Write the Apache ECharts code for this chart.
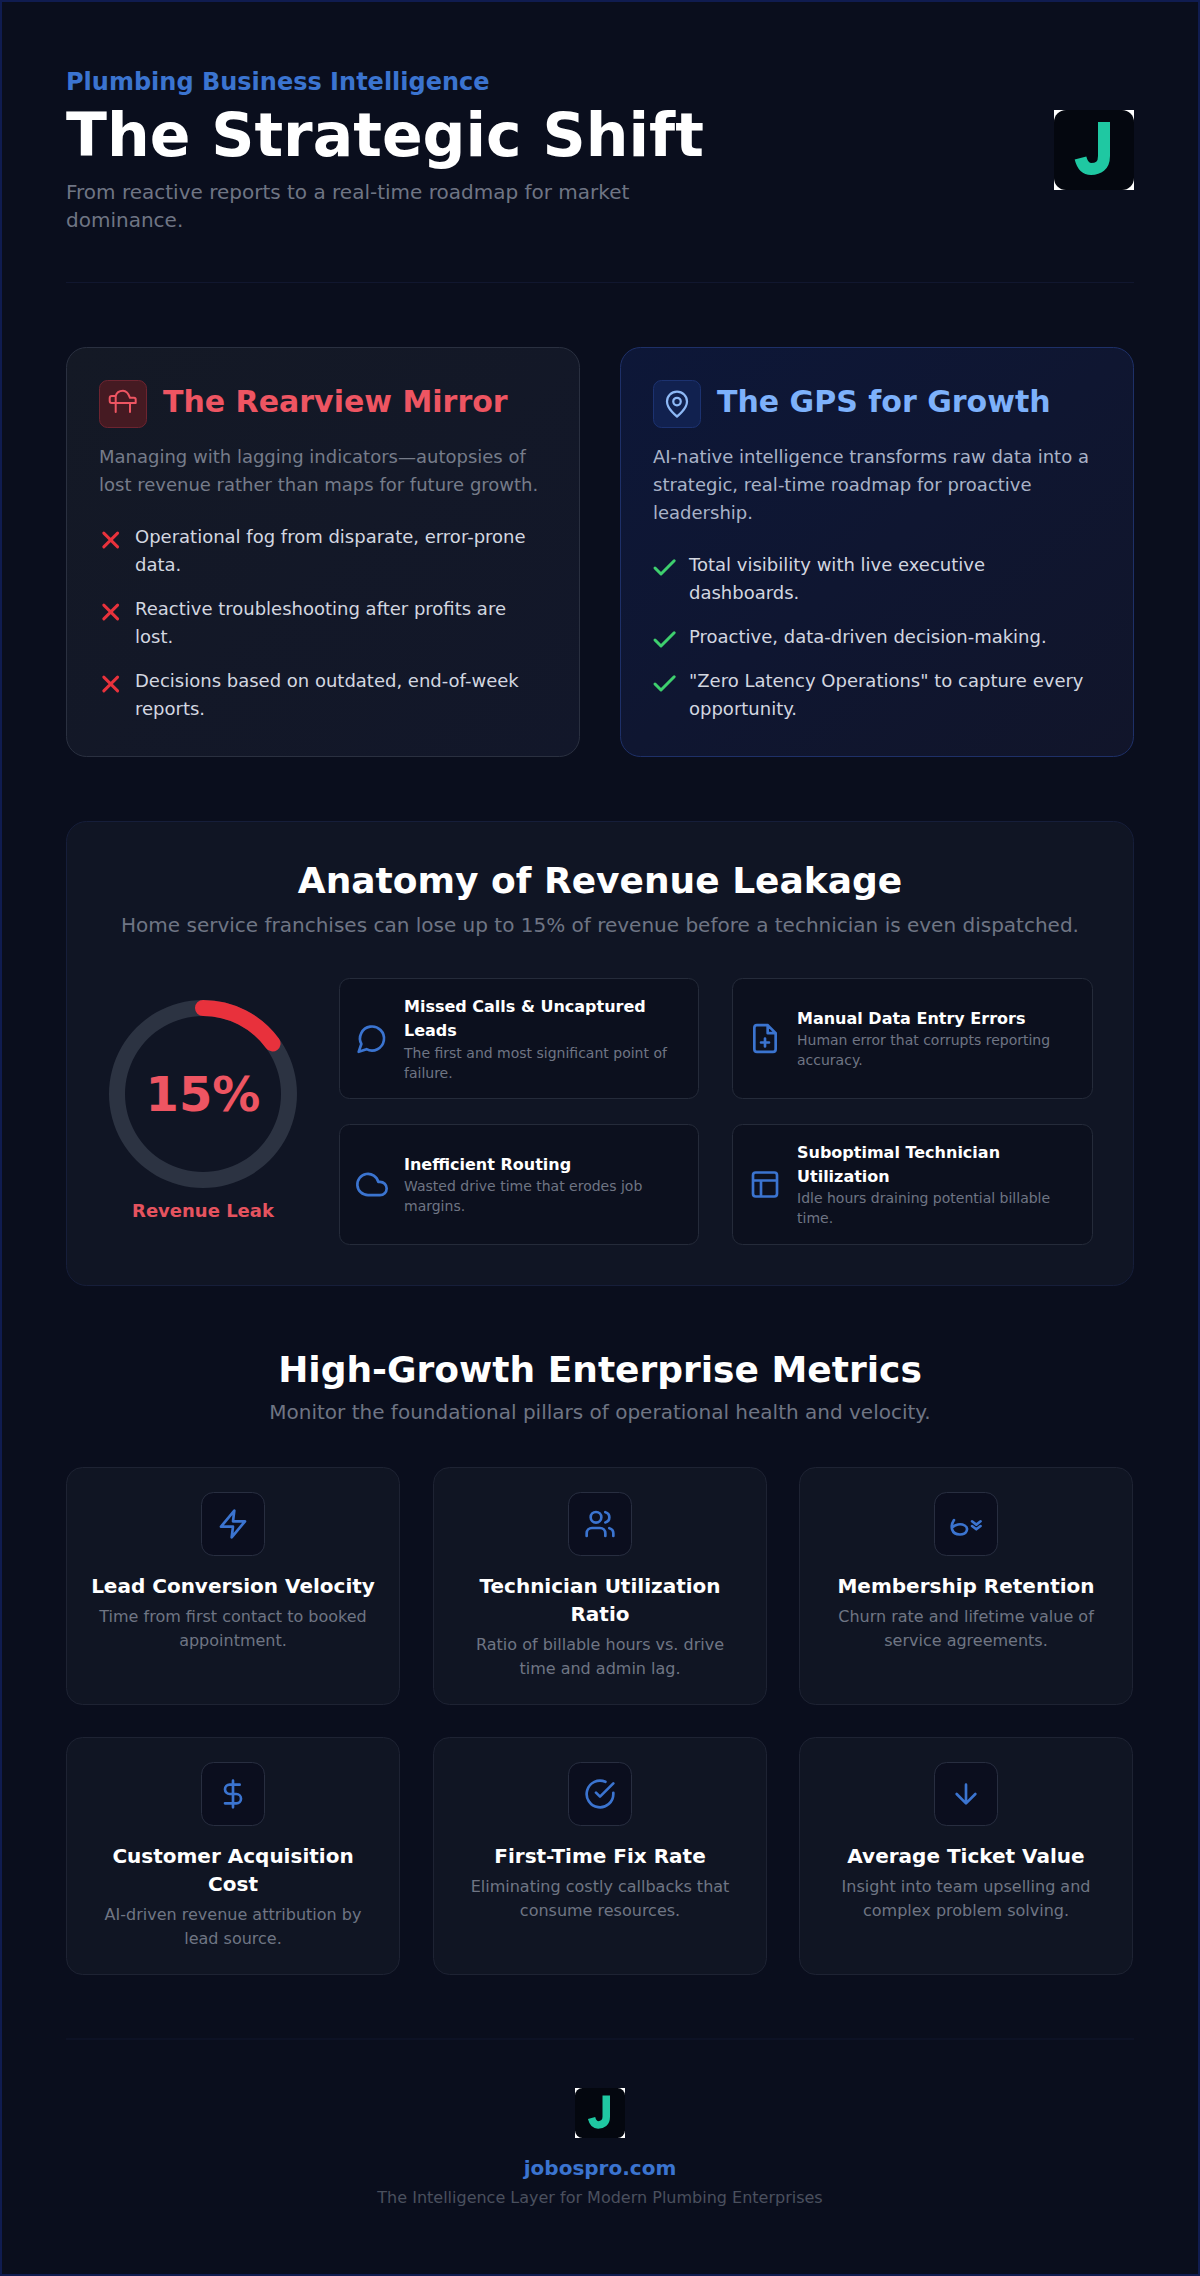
<!DOCTYPE html>
<html>

<head>
    <meta charset="utf-8">
    <title>The Strategic Shift</title>
    <style>
        html,
        body,
        #main {
            padding: 0;
            margin: 0;
            width: 1200px;
            height: 2276px;
            background: #0a0e1d;
            overflow: hidden;
        }
    </style>
    <script src="https://cdn.jsdelivr.net/npm/echarts@6/dist/echarts.min.js"></script>
</head>

<body>
    <div id="main"></div>
    <script>
        // chart values
        var ringValue = 15;
        var ringMax = 100;
        var ringLabel = 'Revenue Leak';

        // texts, one entry per rendered line
        var eyebrow = 'Plumbing Business Intelligence';
        var headline = 'The Strategic Shift';
        var tagline = ['From reactive reports to a real-time roadmap for market', 'dominance.'];

        var oldTitle = 'The Rearview Mirror';
        var oldBody = ['Managing with lagging indicators\u2014autopsies of', 'lost revenue rather than maps for future growth.'];
        var oldItems = [
            ['Operational fog from disparate, error-prone', 'data.'],
            ['Reactive troubleshooting after profits are', 'lost.'],
            ['Decisions based on outdated, end-of-week', 'reports.']
        ];

        var newTitle = 'The GPS for Growth';
        var newBody = ['AI-native intelligence transforms raw data into a', 'strategic, real-time roadmap for proactive', 'leadership.'];
        var newItems = [
            ['Total visibility with live executive', 'dashboards.'],
            ['Proactive, data-driven decision-making.'],
            ['"Zero Latency Operations" to capture every', 'opportunity.']
        ];

        var leakTitle = 'Anatomy of Revenue Leakage';
        var leakSub = 'Home service franchises can lose up to 15% of revenue before a technician is even dispatched.';
        var leakTitles = [
            ['Missed Calls & Uncaptured', 'Leads'],
            ['Manual Data Entry Errors'],
            ['Inefficient Routing'],
            ['Suboptimal Technician', 'Utilization']
        ];
        var leakDescs = [
            ['The first and most significant point of', 'failure.'],
            ['Human error that corrupts reporting', 'accuracy.'],
            ['Wasted drive time that erodes job', 'margins.'],
            ['Idle hours draining potential billable', 'time.']
        ];

        var metricsTitle = 'High-Growth Enterprise Metrics';
        var metricsSub = 'Monitor the foundational pillars of operational health and velocity.';
        var metricTitles = [
            ['Lead Conversion Velocity'],
            ['Technician Utilization', 'Ratio'],
            ['Membership Retention'],
            ['Customer Acquisition', 'Cost'],
            ['First-Time Fix Rate'],
            ['Average Ticket Value']
        ];
        var metricDescs = [
            ['Time from first contact to booked', 'appointment.'],
            ['Ratio of billable hours vs. drive', 'time and admin lag.'],
            ['Churn rate and lifetime value of', 'service agreements.'],
            ['AI-driven revenue attribution by', 'lead source.'],
            ['Eliminating costly callbacks that', 'consume resources.'],
            ['Insight into team upselling and', 'complex problem solving.']
        ];

        var footerSite = 'jobospro.com';
        var footerLine = 'The Intelligence Layer for Modern Plumbing Enterprises';

        // icons on a 24 box
        var icoX = 'M18 6L6 18 M6 6l12 12';
        var icoCheck = 'M20 6L9 17l-5-5';
        var icoPin = 'M20 10c0 6-8 12-8 12s-8-6-8-12a8 8 0 0 1 16 0z M12 10m-3 0a3 3 0 1 0 6 0a3 3 0 1 0-6 0';
        var leakIcons = [
            'M7.9 20A9 9 0 1 0 4 16.1L2 22Z',
            'M14 2H6a2 2 0 0 0-2 2v16a2 2 0 0 0 2 2h12a2 2 0 0 0 2-2V8z M14 2v6h6 M12 18v-6 M9 15h6',
            'M18 10h-1.26A8 8 0 1 0 9 20h9a5 5 0 0 0 0-10z',
            'M5 3h14a2 2 0 0 1 2 2v14a2 2 0 0 1-2 2H5a2 2 0 0 1-2-2V5a2 2 0 0 1 2-2z M3 9h18 M9 21V9'
        ];
        var metricIcons = [
            'M13 2L3 14h9l-1 8 10-12h-9l1-8z',
            'M16 21v-2a4 4 0 0 0-4-4H6a4 4 0 0 0-4 4v2 M9 7m-4 0a4 4 0 1 0 8 0a4 4 0 1 0-8 0 M22 21v-2a4 4 0 0 0-3-3.87 M16 3.13a4 4 0 0 1 0 7.75',
            null,
            'M12 2v20 M17 5H9.5a3.5 3.5 0 0 0 0 7h5a3.5 3.5 0 0 1 0 7H6',
            'M22 11.08V12a10 10 0 1 1-5.93-9.14 M22 4L12 14.01l-3-3',
            'M12 5v14 M19 12l-7 7-7-7'
        ];

        var FONT = '"DejaVu Sans", sans-serif';
        var BLUE = '#3b74d0';
        var GREY = '#6f7584';
        var CORAL = '#ee5562';
        var els = [];

        // the graphic component only takes named shapes, so each path gets registered once
        var shapeNames = {};
        var shapeCount = 0;
        function shapeFor(d) {
            if (!shapeNames[d]) {
                shapeNames[d] = 'ico' + (shapeCount++);
                echarts.graphic.registerShape(shapeNames[d], echarts.graphic.extendPath(d));
            }
            return shapeNames[d];
        }

        function text(x, base, str, size, color, bold, align) {
            els.push({
                type: 'text',
                x: x,
                y: base - size * 0.36,
                silent: true,
                style: {
                    text: str,
                    fontFamily: FONT,
                    fontSize: size,
                    fontWeight: bold ? 'bold' : 'normal',
                    fill: color,
                    textAlign: align || 'left',
                    textVerticalAlign: 'middle'
                }
            });
        }

        function lines(x, base, arr, step, size, color, bold, align) {
            arr.forEach(function (s, i) {
                text(x, base + i * step, s, size, color, bold, align);
            });
        }

        function box(x, y, w, h, r, fill, stroke, lw) {
            els.push({
                type: 'rect',
                silent: true,
                shape: { x: x + 0.5, y: y + 0.5, width: w - 1, height: h - 1, r: r },
                style: { fill: fill, stroke: stroke, lineWidth: lw || 1 }
            });
        }

        function icon(d, cx, cy, scale, color, lw) {
            els.push({
                type: shapeFor(d),
                silent: true,
                x: cx - 12 * scale,
                y: cy - 12 * scale,
                scaleX: scale,
                scaleY: scale,
                style: { fill: 'none', stroke: color, lineWidth: lw || 2, lineCap: 'round', lineJoin: 'round' }
            });
        }

        // path drawn straight in page pixels
        function raw(d, color, lw) {
            els.push({
                type: shapeFor(d),
                silent: true,
                style: { fill: 'none', stroke: color, lineWidth: lw, lineCap: 'round', lineJoin: 'round' }
            });
        }

        function logo(x, y, size) {
            var k = size / 80;
            els.push({ type: 'rect', silent: true, shape: { x: x, y: y, width: size, height: size }, style: { fill: '#ffffff' } });
            els.push({ type: 'rect', silent: true, shape: { x: x, y: y, width: size, height: size, r: 12 * k }, style: { fill: '#04070f' } });
            els.push({
                type: shapeFor('M50 12 L50 46 C50 56 44 59 37 59 C31 59 28 54 26.5 48'),
                silent: true,
                x: x,
                y: y,
                scaleX: k,
                scaleY: k,
                style: { fill: 'none', stroke: '#1fc8a2', lineWidth: 12, lineCap: 'butt' }
            });
        }

        function rule(y) {
            els.push({
                type: 'line',
                silent: true,
                shape: { x1: 66, y1: y, x2: 1134, y2: y },
                style: { stroke: '#11172f', lineWidth: 1 }
            });
        }

        // page border
        els.push({ type: 'rect', silent: true, shape: { x: 1, y: 1, width: 1198, height: 2274 }, style: { fill: 'none', stroke: '#101c50', lineWidth: 2 } });

        // header
        text(66, 90.5, eyebrow, 24, BLUE, true);
        text(66, 157, headline, 60, '#ffffff', true);
        lines(66, 199, tagline, 28, 20, GREY);
        logo(1054, 110, 80);
        rule(282.5);

        // comparison cards
        box(66, 347, 514, 410, 20, {
            type: 'linear', x: 0, y: 0, x2: 1, y2: 1,
            colorStops: [{ offset: 0, color: '#141925' }, { offset: 1, color: '#12172a' }]
        }, '#2a3040');
        box(99, 380, 48, 48, 8, '#451a22', '#6d2430');
        raw('M115.7 396 H111.7 a2 2 0 0 0 -2 2 v3 a2 2 0 0 0 2 2 H135.7 v-3.500 a1.700 1.700 0 0 0 -1.700 -1.700 H130 C128.300 393 125.700 390.700 123 390.700 C119 390.700 116.400 393 115.700 396 M115.700 396 V412 M130 403 V412',
            CORAL, 2);
        text(163, 412.7, oldTitle, 30, CORAL, true);
        lines(99, 463, oldBody, 28, 18, '#767c8a');
        oldItems.forEach(function (item, i) {
            var base = 543 + i * 72;
            icon(icoX, 110.7, base - 3, 1.15, '#e8323c', 2.6);
            lines(135, base, item, 28, 18, '#d3d7e0');
        });

        box(620, 347, 514, 410, 20, {
            type: 'linear', x: 0, y: 0, x2: 1, y2: 1,
            colorStops: [{ offset: 0, color: '#0d1738' }, { offset: 1, color: '#11152a' }]
        }, '#1e3068');
        box(653, 380, 48, 48, 8, '#11214f', '#1c3270');
        icon(icoPin, 677, 404, 1.25, '#8db8f5', 1.8);
        text(717, 412.7, newTitle, 30, '#7db1fb', true);
        lines(653, 463, newBody, 28, 18, '#a9b3c8');
        var newBases = [571, 643, 687];
        newItems.forEach(function (item, i) {
            icon(icoCheck, 664.6, newBases[i] - 3, 1.2, '#3ecf6e', 2.5);
            lines(689, newBases[i], item, 28, 18, '#d3d7e0');
        });

        // leakage panel
        box(66, 821, 1068, 465, 20, '#101524', '#161e3a');
        text(600, 893.7, leakTitle, 36, '#ffffff', true, 'center');
        text(600, 931.7, leakSub, 20, GREY, false, 'center');

        var leakX = [339, 732, 339, 732];
        var leakW = [360, 361, 360, 361];
        var leakY = [978, 978, 1124, 1124];
        var leakBase = [1012.7, 1024.5, 1170.5, 1158.5];
        leakTitles.forEach(function (t, i) {
            box(leakX[i], leakY[i], leakW[i], 121, 10, '#0c101e', '#252b3a');
            icon(leakIcons[i], leakX[i] + 33, leakY[i] + 60.5, 1.333, BLUE, 2);
            var tx = leakX[i] + 65;
            lines(tx, leakBase[i], t, 24, 16, '#ffffff', true);
            lines(tx, leakBase[i] + (t.length - 1) * 24 + 21, leakDescs[i], 20, 14, GREY);
        });

        // metrics
        text(600, 1382, metricsTitle, 36, '#ffffff', true, 'center');
        text(600, 1419, metricsSub, 20, GREY, false, 'center');
        rule(2039);

        var colX = [66, 433, 799];
        metricTitles.forEach(function (t, i) {
            var col = i % 3;
            var row = Math.floor(i / 3);
            var x = colX[col];
            var y = 1467 + row * 270;
            var cx = x + 167;
            box(x, y, 334, 238, 16, '#101523', '#1e2333');
            box(cx - 32, y + 25, 64, 64, 12, '#0b0e1e', '#282e40');
            if (metricIcons[i]) {
                icon(metricIcons[i], cx, y + 57, 1.333, BLUE, 2);
            } else {
                // retention mark, hand traced
                raw('M954 1520 C950 1526 951 1534.500 960 1534.500 C967 1534.500 969 1528 964.700 1525.500 C960.500 1523 955 1524.500 952.300 1527.500 M972 1521.300 l4.300 3.300 l4.300 -3.300 M972 1526 l4.300 3.300 l4.300 -3.300', BLUE, 2.6);
            }
            lines(cx, y + 125.7, t, 28, 20, '#ffffff', true, 'center');
            lines(cx, y + 127 + (t.length - 1) * 28 + 28, metricDescs[i], 24, 16, GREY, false, 'center');
        });

        // footer
        logo(575, 2088, 50);
        text(600, 2175, footerSite, 20, BLUE, true, 'center');
        text(600, 2203, footerLine, 16, '#4a505e', false, 'center');

        var chart = echarts.init(document.getElementById('main'), null, { renderer: 'svg', width: 1200, height: 2276 });
        chart.setOption({
            animation: false,
            backgroundColor: '#0a0e1d',
            graphic: { elements: els },
            series: [{
                type: 'gauge',
                center: [203, 1094],
                radius: 94,
                min: 0,
                max: ringMax,
                startAngle: 90,
                endAngle: -270,
                silent: true,
                pointer: { show: false },
                axisTick: { show: false },
                splitLine: { show: false },
                axisLabel: { show: false },
                axisLine: { lineStyle: { width: 16, color: [[1, '#2c3342']] } },
                progress: { show: true, roundCap: true, width: 16, itemStyle: { color: '#e8313c' } },
                title: {
                    offsetCenter: [0, 116],
                    fontFamily: FONT,
                    fontSize: 18,
                    fontWeight: 'bold',
                    color: '#e5535f'
                },
                detail: {
                    offsetCenter: [0, 0],
                    formatter: '{value}%',
                    fontFamily: FONT,
                    fontSize: 48,
                    fontWeight: 'bold',
                    color: CORAL
                },
                data: [{ value: ringValue, name: ringLabel }]
            }]
        });
    </script>
</body>

</html>
